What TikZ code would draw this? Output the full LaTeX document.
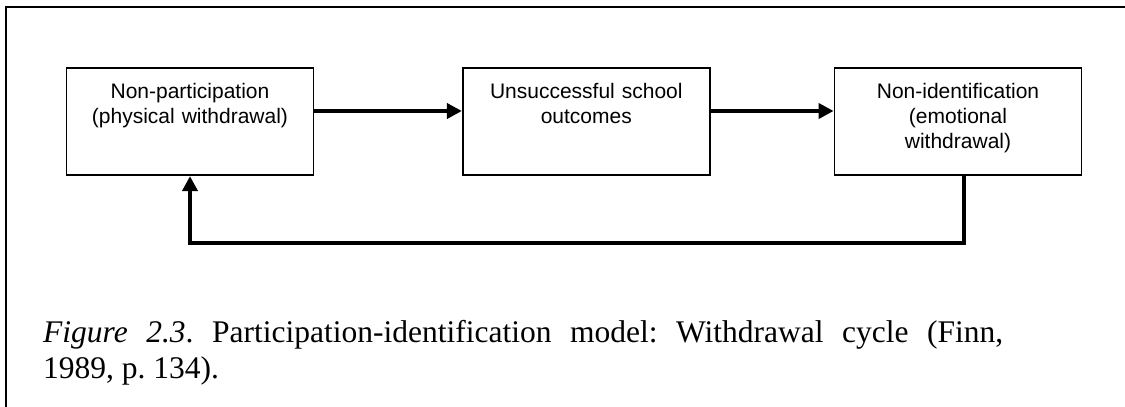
\documentclass[tikz,border=0pt]{standalone}
\usepackage{fontspec}
\setmainfont{Liberation Serif}
\newfontfamily\boxfont{Liberation Sans}
\usetikzlibrary{arrows.meta}
\frenchspacing
\begin{document}
\begin{tikzpicture}[x=1pt,y=-1pt,
  flowbox/.style={draw, line width=1.8pt, minimum width=247pt, minimum height=107pt, inner sep=0pt},
  boxtext/.style={anchor=base, inner sep=0pt, text width=240pt, align=center, font=\boxfont\fontsize{21}{25}\selectfont},
  flowarrow/.style={line width=3.8pt, -{Triangle[length=15pt,width=15pt]}},
  frameline/.style={line width=2pt}]
\useasboundingbox (0,0) rectangle (1125,407);
\coordinate (fbot) at (6,407);
\coordinate (ftl) at (6,6.5);
\coordinate (ftr) at (1125,6.5);
\draw[frameline] (fbot) -- (ftl) -- (ftr);
\node[flowbox] (b1) at (190,121.7) {};
\node[flowbox] (b2) at (586.3,121.7) {};
\node[flowbox] (b3) at (958,121.7) {};
\node[boxtext] (t1) at (190,98) {Non-participation\\(physical withdrawal)};
\node[boxtext] (t2) at (586.3,98) {Unsuccessful school\\outcomes};
\node[boxtext] (t3) at (958,98) {Non-identification\\(emotional\\withdrawal)};
\draw[flowarrow] (b1.east |- 0,111) -- (b2.west |- 0,111);
\draw[flowarrow] (b2.east |- 0,111) -- (b3.west |- 0,111);
\coordinate (loopr) at (964,243);
\draw[flowarrow] ([xshift=6pt]b3.south) -- (loopr) -| (b1.south);
\node[anchor=base west, inner sep=0pt, text width=960pt, align=justify,
  font=\fontsize{31.5}{36}\selectfont] (cap) at (43,342)
  {\textit{Figure 2.3}. Participation-identification model: Withdrawal cycle (Finn,\linebreak 1989, p. 134).};
\end{tikzpicture}
\end{document}
